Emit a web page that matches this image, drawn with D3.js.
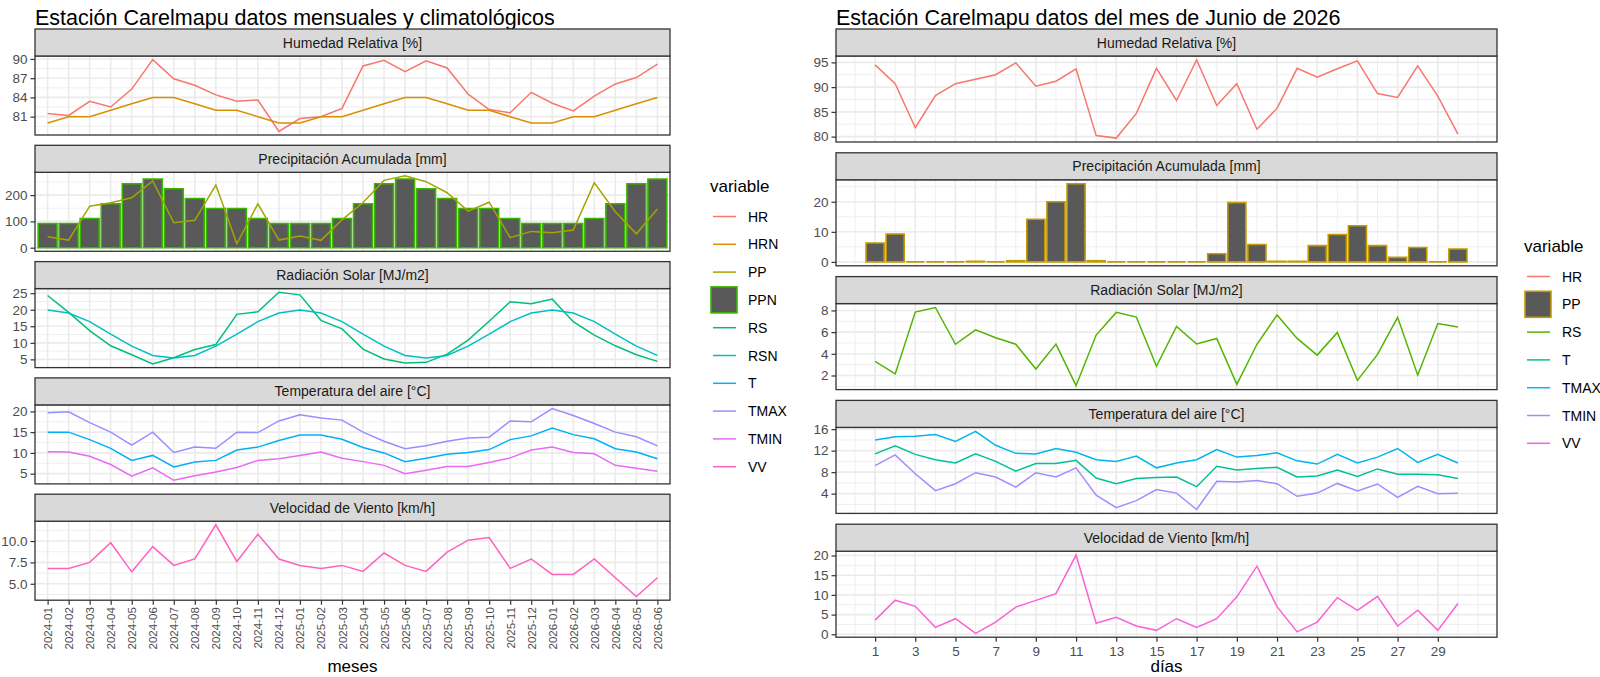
<!DOCTYPE html>
<html>
<head>
<meta charset="utf-8">
<script src="https://cdn.jsdelivr.net/npm/d3@7"></script>
<style>
  body { margin: 0; background: #fff; }
</style>
</head>
<body>
<script>
// ---- datos mensuales (panel izquierdo)
const meses = ["2024-01","2024-02","2024-03","2024-04","2024-05","2024-06","2024-07","2024-08","2024-09","2024-10","2024-11","2024-12",
  "2025-01","2025-02","2025-03","2025-04","2025-05","2025-06","2025-07","2025-08","2025-09","2025-10","2025-11","2025-12",
  "2026-01","2026-02","2026-03","2026-04","2026-05","2026-06"];

const hr   = [81.5,81.2,83.4,82.5,85.3,89.9,86.9,85.9,84.4,83.4,83.6,78.7,80.7,81.0,82.3,88.9,89.8,88.0,89.7,88.6,84.5,82.1,81.6,84.8,83.1,81.9,84.2,86.1,87.1,89.2];
const hrn  = [80,81,81,82,83,84,84,83,82,82,81,80,80,81,81,82,83,84,84,83,82,82,81,80,80,81,81,82,83,84];
const pp   = [42,29,158,171,190,254,95,104,238,15,167,29,44,28,106,172,256,273,251,209,139,173,38,62,57,67,247,137,53,147];
const ppn  = [92,92,111,167,243,261,224,187,149,149,111,92,92,92,111,167,243,261,224,187,149,149,111,92,92,92,111,167,243,261];
const rs   = [24.3,19.2,13.7,9.1,6.4,3.6,5.5,8.0,9.5,18.6,19.4,25.3,24.5,16.8,14.2,8.1,5.1,3.9,4.1,6.6,10.8,16.5,22.4,21.8,23.2,16.4,12.3,9.1,6.4,4.4];
const rsn  = [19.9,19.0,16.4,12.6,9.0,6.2,5.4,6.2,9.0,12.6,16.4,19.0,19.9,19.0,16.4,12.6,9.0,6.2,5.4,6.2,9.0,12.6,16.4,19.0,19.9,19.0,16.4,12.6,9.0,6.2];
const temp = [15.0,15.0,13.2,11.1,8.2,9.4,6.6,7.8,8.2,10.7,11.4,13.0,14.3,14.3,13.3,11.3,10.0,7.9,8.7,9.7,10.1,10.8,13.2,14.1,16.0,14.4,13.4,11.0,10.2,8.6];
const tmax = [19.7,19.9,17.3,15.0,11.9,15.0,10.1,11.4,11.1,15.0,14.9,17.7,19.2,18.4,17.9,15.0,12.8,11.0,11.7,12.8,13.6,13.8,17.7,17.5,20.7,19.0,17.1,15.0,13.9,11.7];
const tmin = [10.3,10.2,9.2,7.2,4.4,6.4,3.4,4.5,5.4,6.5,8.2,8.6,9.4,10.2,8.7,7.9,7.0,5.0,5.8,6.7,6.7,7.7,8.8,10.7,11.4,10.1,9.8,7.0,6.3,5.6];
const vv   = [6.8,6.8,7.5,9.8,6.4,9.35,7.15,7.9,11.9,7.6,10.8,7.9,7.15,6.8,7.15,6.45,8.6,7.15,6.45,8.7,10.1,10.4,6.8,7.9,6.1,6.1,7.9,5.7,3.5,5.7];

const hrTicks = [81,84,87,90];
const ppTicks = [0,100,200];
const rsTicks = [5,10,15,20,25];
const tTicks  = [5,10,15,20];
const vvTicks = [5,7.5,10];

// ---- datos diarios junio 2026 (panel derecho)
const dias = [1,2,3,4,5,6,7,8,9,10,11,12,13,14,15,16,17,18,19,20,21,22,23,24,25,26,27,28,29,30];
const hrDia   = [94.5,90.7,81.8,88.3,90.7,91.6,92.5,94.9,90.2,91.2,93.7,80.2,79.7,84.7,93.8,87.3,95.5,86.3,90.7,81.5,85.7,93.8,92.0,93.7,95.3,88.7,87.9,94.3,88.2,80.5];
const ppDia   = [6.3,9.3,0,0,0,0.2,0,0.4,14.2,20.0,26.0,0.4,0,0,0,0,0,2.7,19.7,5.8,0.2,0.2,5.4,9.1,12.0,5.4,1.5,4.8,0,4.3];
const rsDia   = [3.3,2.15,7.85,8.27,4.88,6.21,5.48,4.88,2.6,4.9,1.06,5.73,7.82,7.39,2.85,6.52,4.91,5.42,1.18,4.88,7.58,5.42,3.88,5.97,1.55,3.94,7.36,2.03,6.79,6.48];
const tmaxDia = [14.0,14.6,14.7,15.0,13.7,15.6,13.0,11.5,11.4,12.4,11.7,10.3,10.0,11.0,8.8,9.7,10.3,12.2,10.8,11.1,11.6,10.1,9.5,11.3,9.7,10.8,12.4,9.8,11.3,9.7];
const tDia    = [11.4,12.9,11.3,10.3,9.7,11.4,10.0,8.2,9.6,9.6,10.2,6.9,5.85,6.8,7.0,7.1,5.3,9.1,8.4,8.7,8.9,7.1,7.3,8.4,7.2,8.6,7.6,7.6,7.5,6.8];
const tminDia = [9.2,11.2,7.7,4.55,5.85,7.9,7.1,5.2,7.9,7.1,8.8,3.7,1.4,2.7,4.75,4.1,1.05,6.3,6.15,6.45,5.85,3.5,4.1,5.9,4.5,5.8,3.3,5.35,4.0,4.05];
const vvDia   = [3.6,8.65,7.1,1.75,3.95,0.25,3.1,6.9,8.6,10.3,20.1,2.8,4.3,2.1,1.0,3.95,1.75,3.95,9.5,17.3,7.0,0.6,3.1,9.3,6.05,9.65,2.1,6.1,1.0,7.8];

const hrDiaTicks = [80,85,90,95];
const ppDiaTicks = [0,10,20];
const rsDiaTicks = [2,4,6,8];
const tDiaTicks  = [4,8,12,16];
const vvDiaTicks = [0,5,10,15,20];
const diasTicks  = [1,3,5,7,9,11,13,15,17,19,21,23,25,27,29];

// ---- colores (paleta hue de ggplot)
const colMes = {HR:"#F8766D", HRN:"#D89000", PP:"#A3A500", PPN:"#39B600", RS:"#00BF7D", RSN:"#00BFC4", T:"#00B0F6", TMAX:"#9590FF", TMIN:"#E76BF3", VV:"#FF62BC"};
const colDia = {HR:"#F8766D", PP:"#C49A00", RS:"#53B400", T:"#00C094", TMAX:"#00B6EB", TMIN:"#A58AFF", VV:"#FB61D7"};

const FONT = "'Liberation Sans', Arial, Helvetica, sans-serif";

let svg = d3.select("body").append("svg")
  .attr("width", 1600)
  .attr("height", 677)
  .style("font-family", FONT);

// minor breaks a la ggplot: puntos medios entre cortes
function minorBreaks(ticks, dom) {
  const step = ticks[1] - ticks[0];
  let out = [];
  for (let v = ticks[0] - step / 2; v <= dom[1]; v += step) {
    if (v >= dom[0]) out.push(v);
  }
  return out;
}

let drawChart = (c) => {
  const g = svg.append("g");

  g.append("text")
    .attr("x", c.left).attr("y", 25)
    .style("font-size", "21.5px").attr("fill", "#000")
    .text(c.title);

  const n = c.facets.length;

  c.facets.forEach((f, i) => {
    const sTop = c.top + i * c.step;
    const pTop = sTop + c.stripH;
    const pBot = pTop + c.panelH;

    let all = [];
    f.series.forEach(s => { all = all.concat(s.values); if (s.bar) all.push(0); });
    const ext = d3.extent(all);
    const pad = (ext[1] - ext[0]) * 0.05;
    const y = d3.scaleLinear().domain([ext[0] - pad, ext[1] + pad]).range([pBot, pTop]);

    g.append("rect")
      .attr("x", c.left).attr("y", pTop)
      .attr("width", c.right - c.left).attr("height", c.panelH)
      .attr("fill", "#fff");

    // grid
    const grid = g.append("g").attr("stroke", "#EBEBEB").attr("fill", "none");
    grid.selectAll(".ymin").data(minorBreaks(f.ticks, y.domain())).enter().append("line")
      .attr("x1", c.left).attr("x2", c.right)
      .attr("y1", d => y(d)).attr("y2", d => y(d))
      .attr("stroke-width", 0.8);
    grid.selectAll(".xmin").data(c.xMinor).enter().append("line")
      .attr("x1", d => c.x(d)).attr("x2", d => c.x(d))
      .attr("y1", pTop).attr("y2", pBot)
      .attr("stroke-width", 0.8);
    grid.selectAll(".ymaj").data(f.ticks).enter().append("line")
      .attr("x1", c.left).attr("x2", c.right)
      .attr("y1", d => y(d)).attr("y2", d => y(d))
      .attr("stroke-width", 1.6);
    grid.selectAll(".xmaj").data(c.xMajor).enter().append("line")
      .attr("x1", d => c.x(d)).attr("x2", d => c.x(d))
      .attr("y1", pTop).attr("y2", pBot)
      .attr("stroke-width", 1.6);

    // barras
    f.series.filter(s => s.bar).forEach(s => {
      g.append("g").selectAll("path").data(s.values).enter().append("path")
        .attr("d", (v, j) => {
          const cx = c.x(c.cats[j]), hw = c.barW / 2;
          return "M" + (cx - hw) + "," + y(0) + "H" + (cx + hw) + "V" + y(v) + "H" + (cx - hw) + "Z";
        })
        .attr("fill", "#595959")
        .attr("stroke", s.color)
        .attr("stroke-width", 1.6);
    });

    // lineas
    f.series.filter(s => !s.bar).forEach(s => {
      const line = d3.line().x((v, j) => c.x(c.cats[j])).y(v => y(v));
      g.append("path").datum(s.values)
        .attr("d", line)
        .attr("fill", "none")
        .attr("stroke", s.color)
        .attr("stroke-width", 1.5);
    });

    // borde del panel
    g.append("rect")
      .attr("x", c.left).attr("y", pTop)
      .attr("width", c.right - c.left).attr("height", c.panelH)
      .attr("fill", "none").attr("stroke", "#333").attr("stroke-width", 1.3);

    // strip
    g.append("rect")
      .attr("x", c.left).attr("y", sTop)
      .attr("width", c.right - c.left).attr("height", c.stripH)
      .attr("fill", "#D9D9D9").attr("stroke", "#333").attr("stroke-width", 1.3);
    g.append("text")
      .attr("x", (c.left + c.right) / 2).attr("y", sTop + c.stripH / 2 + 5)
      .attr("text-anchor", "middle")
      .style("font-size", "14px").attr("fill", "#1A1A1A")
      .text(f.title);

    // eje y
    const ay = g.append("g")
      .attr("transform", "translate(" + c.left + ",0)")
      .call(d3.axisLeft(y).tickValues(f.ticks).tickSize(4.5).tickPadding(3).tickFormat(f.fmt || d3.format("d")));
    ay.attr("font-family", null).attr("font-size", null);
    ay.select(".domain").remove();
    ay.selectAll("line").attr("stroke", "#333").attr("stroke-width", 1.2);
    ay.selectAll("text").attr("fill", "#4D4D4D").style("font-size", "13.5px");

    // eje x solo en el ultimo panel
    if (i === n - 1) {
      const ax = g.append("g")
        .attr("transform", "translate(0," + pBot + ")")
        .call(c.axisX);
      ax.attr("font-family", null).attr("font-size", null);
      ax.select(".domain").remove();
      ax.selectAll("line").attr("stroke", "#333").attr("stroke-width", 1.2);
      ax.selectAll("text").attr("fill", "#4D4D4D");
      if (c.rotate) {
        ax.selectAll("text")
          .style("font-size", "11.5px")
          .attr("transform", "rotate(-90)")
          .attr("x", -7).attr("y", 0).attr("dy", "0.35em")
          .attr("text-anchor", "end");
      } else {
        ax.selectAll("text").style("font-size", "13.5px");
      }
      g.append("text")
        .attr("x", (c.left + c.right) / 2).attr("y", 672)
        .attr("text-anchor", "middle")
        .style("font-size", "17px").attr("fill", "#000")
        .text(c.xTitle);
    }
  });

  // leyenda
  const lg = svg.append("g");
  lg.append("text")
    .attr("x", c.legX).attr("y", c.legY)
    .style("font-size", "17px").attr("fill", "#000")
    .text("variable");
  c.legend.forEach((it, k) => {
    const cy = c.legY + 24.5 + k * 27.8;
    if (it.bar) {
      lg.append("rect")
        .attr("x", c.legX + 1).attr("y", cy - 13)
        .attr("width", 26).attr("height", 26)
        .attr("fill", "#595959").attr("stroke", it.color).attr("stroke-width", 1.6);
    } else {
      lg.append("line")
        .attr("x1", c.legX + 3).attr("x2", c.legX + 26)
        .attr("y1", cy).attr("y2", cy)
        .attr("stroke", it.color).attr("stroke-width", 1.5);
    }
    lg.append("text")
      .attr("x", c.legX + 38).attr("y", cy + 5)
      .style("font-size", "14px").attr("fill", "#000")
      .text(it.key);
  });
};

// ---- grafico mensual
const xMes = d3.scalePoint().domain(meses).range([35, 670]).padding(0.6);

drawChart({
  title: "Estación Carelmapu datos mensuales y climatológicos",
  left: 35, right: 670, top: 29, step: 116.3, stripH: 27, panelH: 79,
  x: xMes, cats: meses, barW: xMes.step() * 0.9,
  xMajor: meses, xMinor: [],
  axisX: d3.axisBottom(xMes).tickSize(4.5),
  rotate: true, xTitle: "meses",
  facets: [
    {title: "Humedad Relativa [%]", ticks: hrTicks,
     series: [{values: hr, color: colMes.HR}, {values: hrn, color: colMes.HRN}]},
    {title: "Precipitación Acumulada [mm]", ticks: ppTicks,
     series: [{values: ppn, color: colMes.PPN, bar: true}, {values: pp, color: colMes.PP}]},
    {title: "Radiación Solar [MJ/m2]", ticks: rsTicks,
     series: [{values: rs, color: colMes.RS}, {values: rsn, color: colMes.RSN}]},
    {title: "Temperatura del aire [°C]", ticks: tTicks,
     series: [{values: temp, color: colMes.T}, {values: tmax, color: colMes.TMAX}, {values: tmin, color: colMes.TMIN}]},
    {title: "Velocidad de Viento [km/h]", ticks: vvTicks, fmt: d3.format(".1f"),
     series: [{values: vv, color: colMes.VV}]}
  ],
  legX: 710, legY: 192,
  legend: Object.keys(colMes).map(k => ({key: k, color: colMes[k], bar: k === "PPN"}))
});

// ---- grafico diario
const barExt = [d3.min(dias) - 0.45, d3.max(dias) + 0.45];
const barPad = (barExt[1] - barExt[0]) * 0.05;
const xDia = d3.scaleLinear().domain([barExt[0] - barPad, barExt[1] + barPad]).range([836, 1497]);

drawChart({
  title: "Estación Carelmapu datos del mes de Junio de 2026",
  left: 836, right: 1497, top: 29, step: 123.8, stripH: 27, panelH: 86,
  x: xDia, cats: dias, barW: xDia(1.9) - xDia(1),
  xMajor: diasTicks,
  xMinor: d3.range(Math.ceil(xDia.domain()[0]), Math.floor(xDia.domain()[1]) + 1),
  axisX: d3.axisBottom(xDia).tickValues(diasTicks).tickSize(4.5).tickPadding(5).tickFormat(d3.format("d")),
  rotate: false, xTitle: "días",
  facets: [
    {title: "Humedad Relativa [%]", ticks: hrDiaTicks,
     series: [{values: hrDia, color: colDia.HR}]},
    {title: "Precipitación Acumulada [mm]", ticks: ppDiaTicks,
     series: [{values: ppDia, color: colDia.PP, bar: true}]},
    {title: "Radiación Solar [MJ/m2]", ticks: rsDiaTicks,
     series: [{values: rsDia, color: colDia.RS}]},
    {title: "Temperatura del aire [°C]", ticks: tDiaTicks,
     series: [{values: tDia, color: colDia.T}, {values: tmaxDia, color: colDia.TMAX}, {values: tminDia, color: colDia.TMIN}]},
    {title: "Velocidad de Viento [km/h]", ticks: vvDiaTicks,
     series: [{values: vvDia, color: colDia.VV}]}
  ],
  legX: 1524, legY: 252,
  legend: Object.keys(colDia).map(k => ({key: k, color: colDia[k], bar: k === "PP"}))
});
</script>
</body>
</html>
